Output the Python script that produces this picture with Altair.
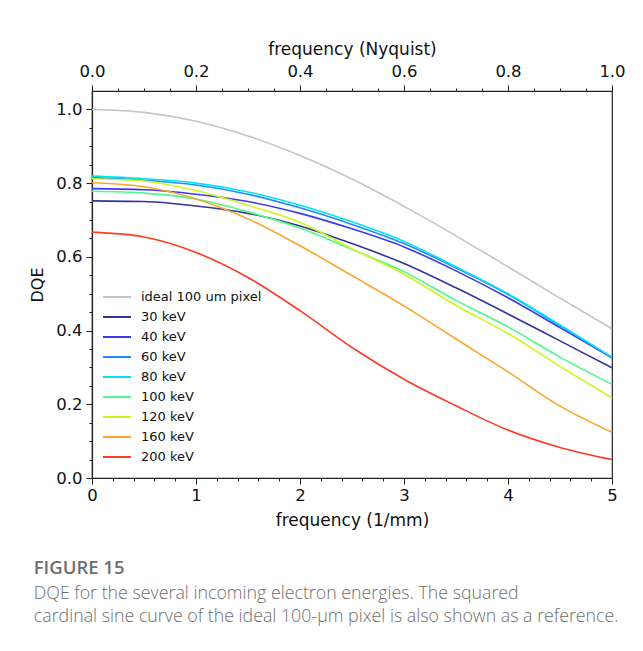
import altair as alt
import pandas as pd

# spatial frequency (1/mm)
freq = [0.0, 0.5, 1.0, 1.5, 2.0, 2.5, 3.0, 3.5, 4.0, 4.5, 5.0]

ideal = [1.000, 0.992, 0.968, 0.928, 0.875, 0.811, 0.737, 0.657, 0.573, 0.488, 0.405]
kev30 = [0.752, 0.750, 0.738, 0.718, 0.684, 0.636, 0.582, 0.516, 0.445, 0.372, 0.299]
kev40 = [0.785, 0.782, 0.770, 0.750, 0.718, 0.676, 0.627, 0.562, 0.489, 0.408, 0.326]
kev60 = [0.815, 0.808, 0.795, 0.770, 0.733, 0.688, 0.636, 0.570, 0.498, 0.413, 0.327]
kev80 = [0.819, 0.812, 0.800, 0.776, 0.740, 0.695, 0.642, 0.573, 0.500, 0.415, 0.328]
kev100 = [0.778, 0.773, 0.757, 0.722, 0.678, 0.620, 0.560, 0.482, 0.410, 0.328, 0.254]
kev120 = [0.812, 0.806, 0.780, 0.740, 0.693, 0.622, 0.553, 0.468, 0.392, 0.303, 0.217]
kev160 = [0.801, 0.790, 0.757, 0.703, 0.630, 0.549, 0.467, 0.377, 0.288, 0.195, 0.124]
kev200 = [0.667, 0.654, 0.612, 0.544, 0.454, 0.354, 0.268, 0.196, 0.130, 0.083, 0.050]

series_names = ["ideal 100 um pixel", "30 keV", "40 keV", "60 keV", "80 keV",
                "100 keV", "120 keV", "160 keV", "200 keV"]
series_values = [ideal, kev30, kev40, kev60, kev80, kev100, kev120, kev160, kev200]
series_colors = ["#c4c4c4", "#33339a", "#3a3af2", "#1f8cff", "#00e4f0",
                 "#4ef98c", "#d2f520", "#ffa42a", "#ff3b22"]

# tick positions
x_ticks = [round(i * 0.2, 2) for i in range(26)]          # 1/mm, major every 1
nyq_ticks = [round(i * 0.05, 2) for i in range(21)]       # Nyquist, major every 0.2
y_ticks = [round(i * 0.05, 2) for i in range(21)]         # DQE, major every 0.2

nyquist_range = [0.0, 1.0]

caption_head = "FIGURE 15"
caption_lines = [
    "DQE for the several incoming electron energies. The squared",
    "cardinal sine curve of the ideal 100-\u03bcm pixel is also shown as a reference.",
]

rows = []
for name, vals in zip(series_names, series_values):
    for f, v in zip(freq, vals):
        rows.append({"freq": f, "dqe": v, "series": name})
df = pd.DataFrame(rows)
df_top = pd.DataFrame({"nyq": nyquist_range})

axis_font = "DejaVu Sans"
major_x = "abs(datum.value - round(datum.value)) < 0.001"
major_5 = "abs(datum.value * 5 - round(datum.value * 5)) < 0.001"

lines = alt.Chart(df).mark_line(strokeWidth=1.6, interpolate="monotone").encode(
    x=alt.X("freq:Q",
            scale=alt.Scale(domain=[0, 5], nice=False, zero=False),
            axis=alt.Axis(
                title="frequency (1/mm)", orient="bottom",
                values=x_ticks,
                labelExpr=f"{major_x} ? format(datum.value, 'd') : ''",
                tickSize={"condition": {"test": major_x, "value": 6}, "value": 3},
                labelFlush=False, labelOverlap=False,
                labelPadding=3, titlePadding=9,
                labelFontSize=16.5, titleFontSize=17,
            )),
    y=alt.Y("dqe:Q",
            scale=alt.Scale(domain=[0, 1.05], nice=False, zero=False),
            axis=alt.Axis(
                title="DQE", orient="left",
                values=y_ticks,
                labelExpr=f"{major_5} ? format(datum.value, '.1f') : ''",
                tickSize={"condition": {"test": major_5, "value": 6}, "value": 3},
                labelFlush=False, labelOverlap=False,
                labelPadding=4, titlePadding=10,
                labelFontSize=16.5, titleFontSize=16,
            )),
    color=alt.Color("series:N",
                    scale=alt.Scale(domain=series_names, range=series_colors),
                    sort=series_names,
                    legend=alt.Legend(
                        title=None, orient="none", legendX=10, legendY=196,
                        symbolType="stroke", symbolSize=784, symbolStrokeWidth=1.8,
                        labelFont=axis_font, labelFontSize=13, labelColor="#111",
                        labelOffset=9, rowPadding=0, padding=0, clipHeight=20,
                    )),
)

top = alt.Chart(df_top).mark_point(opacity=0).encode(
    x=alt.X("nyq:Q",
            scale=alt.Scale(domain=nyquist_range, nice=False, zero=False),
            axis=alt.Axis(
                title="frequency (Nyquist)", orient="top",
                values=nyq_ticks,
                labelExpr=f"{major_5} ? format(datum.value, '.1f') : ''",
                tickSize={"condition": {"test": major_5, "value": 6}, "value": 3},
                labelFlush=False, labelOverlap=False,
                labelPadding=6, titlePadding=5,
                labelFontSize=16.5, titleFontSize=17,
            )),
    y=alt.value(0),
)

chart = alt.layer(lines, top).resolve_scale(x="independent").properties(
    width=520, height=387,
    autosize=alt.AutoSizeParams(type="none"),
    padding={"left": 84, "top": 83, "right": 23, "bottom": 165},
    title=alt.Title(
        caption_head, subtitle=caption_lines,
        orient="bottom", anchor="start", frame="bounds",
        offset=30, dx=4,
        font="Open Sans", fontSize=18.5, fontWeight=600, color="#6e6e6e",
        subtitleFont="Open Sans", subtitleFontSize=17.8, subtitleFontWeight=300,
        subtitleColor="#6e6e6e", subtitleLineHeight=23, subtitlePadding=8,
    ),
).configure_view(
    stroke="#222", strokeWidth=1.2
).configure_axis(
    grid=False, domainColor="#222", domainWidth=1.2, tickColor="#222",
    tickWidth=1, labelColor="#111", titleColor="#111",
    labelFont=axis_font, titleFont=axis_font, titleFontWeight="normal",
)

chart.save("out.html", embed_options={"renderer": "svg", "actions": False})
